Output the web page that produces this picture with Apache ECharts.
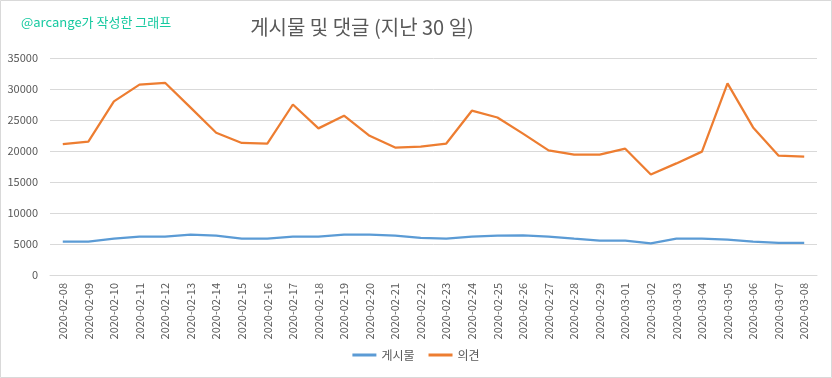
<!DOCTYPE html>
<html><head><meta charset="utf-8">
<script src="https://cdn.jsdelivr.net/npm/echarts@6/dist/echarts.min.js"></script>
<style>html,body{margin:0;padding:0;background:#fff}#c{width:832px;height:378px;}</style>
</head><body><div id="c"></div>
<script>
const categories = ["2020-02-08","2020-02-09","2020-02-10","2020-02-11","2020-02-12","2020-02-13","2020-02-14","2020-02-15","2020-02-16","2020-02-17","2020-02-18","2020-02-19","2020-02-20","2020-02-21","2020-02-22","2020-02-23","2020-02-24","2020-02-25","2020-02-26","2020-02-27","2020-02-28","2020-02-29","2020-03-01","2020-03-02","2020-03-03","2020-03-04","2020-03-05","2020-03-06","2020-03-07","2020-03-08"];
const posts = [5370,5370,5850,6180,6180,6500,6340,5850,5850,6180,6180,6500,6500,6340,6000,5850,6180,6340,6400,6200,5850,5530,5530,5100,5850,5850,5700,5370,5200,5200];
const comments = [21100,21500,28000,30700,31000,27000,22950,21300,21200,27500,23650,25700,22450,20550,20700,21200,26500,25400,22800,20100,19400,19400,20370,16200,18000,19900,30900,23800,19250,19100];
const seriesNames = ["게시물","의견"];
const titleText = "게시물 및 댓글 (지난 30 일)";
const subText = "@arcange가 작성한 그래프";
const font = '"Noto Sans CJK KR", "Noto Sans", sans-serif';
const chart = echarts.init(document.getElementById('c'), null, {renderer:'canvas'});
chart.setOption({
  animation:false,
  backgroundColor:'#fff',
  graphic:[{type:'rect',shape:{x:0.5,y:0.5,width:831,height:377},style:{fill:'none',stroke:'#d9d9d9',lineWidth:1}}],
  title:[
    {text:titleText,left:357,top:12,textAlign:'center',textStyle:{fontFamily:font,fontSize:20,fontWeight:'normal',color:'#595959'}},
    {text:subText,left:16,top:11,textStyle:{fontFamily:font,fontSize:13,fontWeight:'normal',color:'#16c9a0'}}
  ],
  legend:{bottom:12,left:'center',itemWidth:24,itemHeight:3,itemGap:14,icon:'rect',
    textStyle:{fontFamily:font,fontSize:12,color:'#595959'},data:seriesNames},
  grid:{left:50,right:15,top:58,bottom:103,containLabel:false},
  xAxis:{type:'category',data:categories,boundaryGap:true,
    axisLine:{show:true,lineStyle:{color:'#d9d9d9'}},axisTick:{show:false},
    axisLabel:{rotate:90,fontFamily:font,fontSize:11,color:'#595959',margin:8,interval:0}},
  yAxis:{type:'value',min:0,max:35000,interval:5000,
    axisLine:{show:false},axisTick:{show:false},
    splitLine:{lineStyle:{color:'#d9d9d9'}},
    axisLabel:{fontFamily:font,fontSize:11,color:'#595959',margin:12,formatter:function(v){return String(v);}}},
  series:[
    {name:seriesNames[0],type:'line',data:posts,symbol:'none',lineStyle:{width:2.25,color:'#5B9BD5'},itemStyle:{color:'#5B9BD5'}},
    {name:seriesNames[1],type:'line',data:comments,symbol:'none',lineStyle:{width:2.25,color:'#ED7D31'},itemStyle:{color:'#ED7D31'}}
  ]
});
</script></body></html>
